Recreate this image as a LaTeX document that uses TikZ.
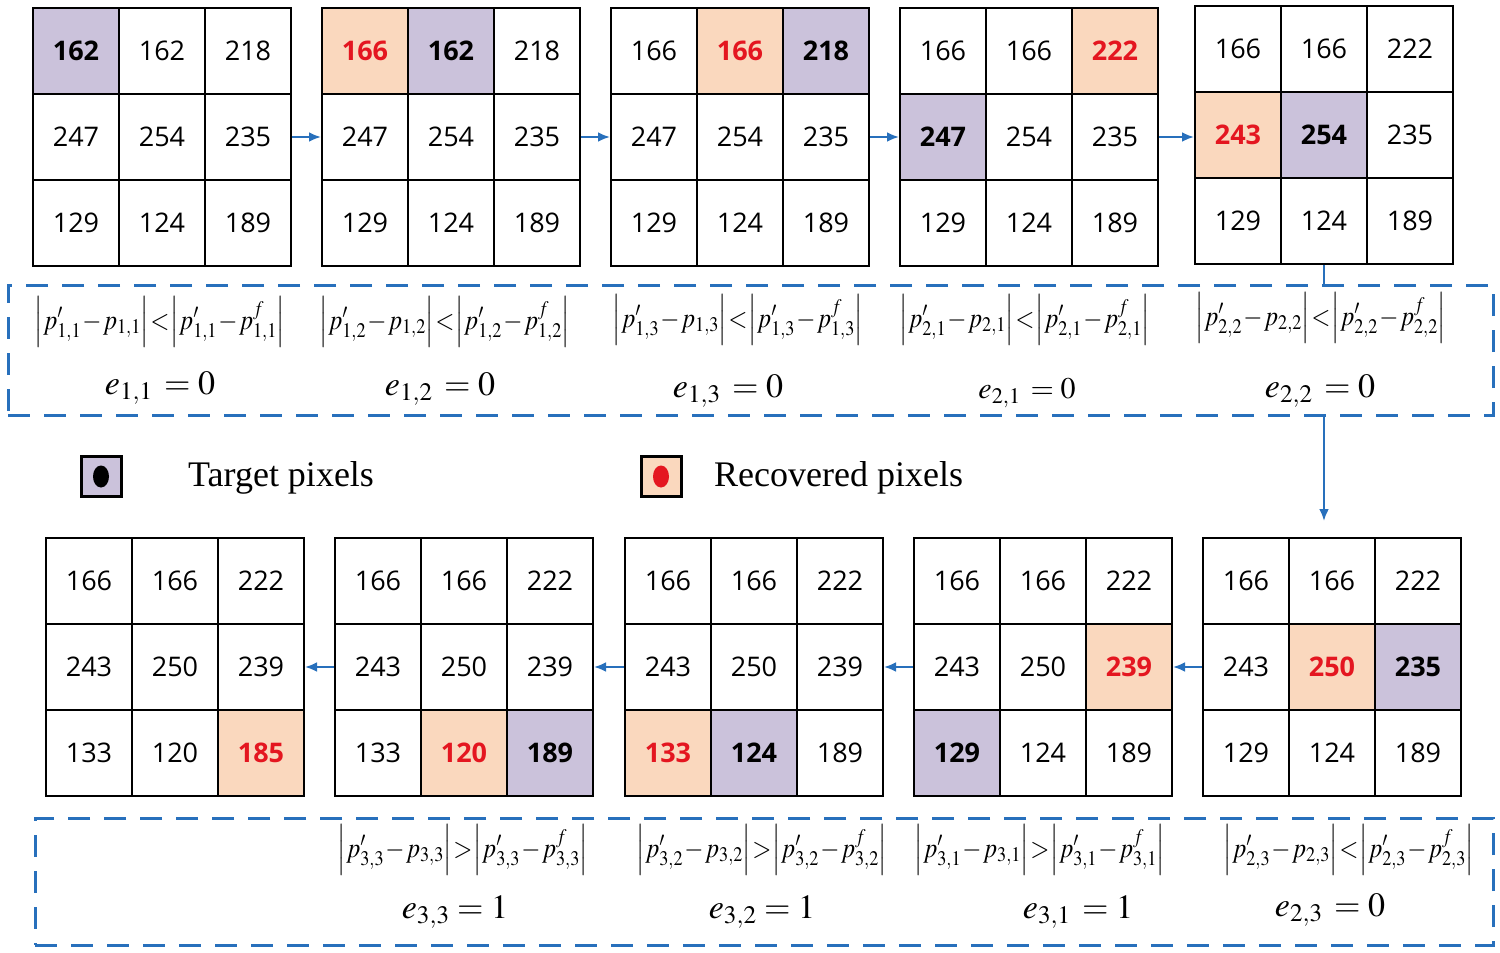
\documentclass[tikz,border=0pt]{standalone}
\usepackage{mathptmx}
\usepackage[no-math]{fontspec}
\usepackage{graphicx}
\setmainfont{Liberation Serif}
\newfontfamily\numfont{Open Sans}
\usetikzlibrary{arrows.meta}
\definecolor{tgt}{RGB}{203,194,219}
\definecolor{rec}{RGB}{250,216,190}
\definecolor{redn}{RGB}{228,22,32}
\definecolor{blu}{RGB}{40,112,188}
\tikzset{
  cell/.style={draw=black, line width=2pt, minimum size=86pt, inner sep=0pt,
    font=\numfont\fontsize{27}{27}\selectfont},
  csn/.style={},
  cst/.style={fill=tgt, font=\numfont\bfseries\fontsize{27}{27}\selectfont},
  csr/.style={fill=rec, text=redn, font=\numfont\bfseries\fontsize{27}{27}\selectfont},
  arr/.style={draw=blu, line width=2.5pt, -{Latex[length=12pt,width=10pt]}},
  dashbox/.style={draw=blu, line width=3pt, dash pattern=on 22pt off 14pt, inner sep=0pt},
  fm/.style={font=\fontsize{28}{28}\selectfont, inner sep=0pt},
  em/.style={font=\fontsize{34}{34}\selectfont, inner sep=0pt},
  legtxt/.style={font=\fontsize{36}{36}\selectfont, anchor=west, inner sep=0pt},
  legbox/.style={line width=3pt, minimum size=40pt, inner sep=0pt}
}
% compact formula |p'_ij - p_ij| rel |p'_ij - p^f_ij|
\newcommand\cmpf[3]{\scalebox{0.88}[1]{$\Bigl|p'_{#1{,}#2}\mkern1mu{-}\mkern1mu p_{#1{,}#2}\Bigr|\mkern1mu{#3}\mkern1mu\Bigl|p'_{#1{,}#2}\mkern1mu{-}\mkern1mu p^{f}_{#1{,}#2}\Bigr|$}}
\newcommand\pgrid[4]{%
  \foreach \s/\v [count=\i from 0] in {#4} {%
    \pgfmathtruncatemacro\rr{div(\i,3)+1}%
    \pgfmathtruncatemacro\cc{mod(\i,3)+1}%
    \node[cell, cs\s] (#1-\rr-\cc) at ({#2+43+86*(\cc-1)},{#3+43+86*(\rr-1)}) {\v};
  }%
}
\begin{document}
\begin{tikzpicture}[x=1pt,y=-1pt]
\fill[white] (0,0) rectangle (1500,953);
\useasboundingbox (0,0) rectangle (1500,953);

% top row
\pgrid{g1}{33}{8}{t/162,n/162,n/218,n/247,n/254,n/235,n/129,n/124,n/189}
\pgrid{g2}{322}{8}{r/166,t/162,n/218,n/247,n/254,n/235,n/129,n/124,n/189}
\pgrid{g3}{611}{8}{n/166,r/166,t/218,n/247,n/254,n/235,n/129,n/124,n/189}
\pgrid{g4}{900}{8}{n/166,n/166,r/222,t/247,n/254,n/235,n/129,n/124,n/189}
\pgrid{g5}{1195}{6}{n/166,n/166,n/222,r/243,t/254,n/235,n/129,n/124,n/189}

% bottom row
\pgrid{b1}{46}{538}{n/166,n/166,n/222,n/243,n/250,n/239,n/133,n/120,r/185}
\pgrid{b2}{335}{538}{n/166,n/166,n/222,n/243,n/250,n/239,n/133,r/120,t/189}
\pgrid{b3}{625}{538}{n/166,n/166,n/222,n/243,n/250,n/239,r/133,t/124,n/189}
\pgrid{b4}{914}{538}{n/166,n/166,n/222,n/243,n/250,r/239,t/129,n/124,n/189}
\pgrid{b5}{1203}{538}{n/166,n/166,n/222,n/243,r/250,t/235,n/129,n/124,n/189}

% dashed boxes
\node[dashbox, minimum width=1485pt, minimum height=130pt] (box1) at (750.5,350) {};
\node[dashbox, minimum width=1458pt, minimum height=127pt] (box2) at (764,881.5) {};

% arrows top
\draw[arr] (g1-2-3.east) -- (g2-2-1.west);
\draw[arr] (g2-2-3.east) -- (g3-2-1.west);
\draw[arr] (g3-2-3.east) -- (g4-2-1.west);
\draw[arr] (g4-2-3.east) -- (g4-2-3.east -| g5-2-1.west);
% vertical connector
\coordinate (vtop) at (g5-3-2.south |- box1.north);
\coordinate (vbot) at (g5-3-2.south |- box1.south);
\coordinate (vend) at (1324,521);
\draw[blu, line width=2.5pt] (g5-3-2.south) -- (vtop);
\draw[arr] (vbot) -- (vend);
% arrows bottom
\draw[arr] (b5-2-1.west) -- (b4-2-3.east);
\draw[arr] (b4-2-1.west) -- (b3-2-3.east);
\draw[arr] (b3-2-1.west) -- (b2-2-3.east);
\draw[arr] (b2-2-1.west) -- (b1-2-3.east);

% top formulas
\node[fm] (f11) at (160,322) {\cmpf{1}{1}{<}};
\node[fm] (f12) at (445,322) {\cmpf{1}{2}{<}};
\node[fm] (f13) at (738,320) {\cmpf{1}{3}{<}};
\node[fm] (f21) at (1025,320) {\cmpf{2}{1}{<}};
\node[fm] (f22) at (1321,318) {\cmpf{2}{2}{<}};
\node[em] (e11) at (160,388) {$e_{1,1}\,=0$};
\node[em] (e12) at (440,389) {$e_{1,2}\,=0$};
\node[em] (e13) at (728,391) {$e_{1,3}\,=0$};
\node[em, font=\fontsize{30}{30}\selectfont] (e21) at (1027,393) {$e_{2,1}\,=0$};
\node[em] (e22) at (1320,391) {$e_{2,2}\,=0$};

% legend
\node[legbox, fill=tgt, draw=black] (lt) at (101,476.5) {};
\fill[black] (lt.center) ellipse (8pt and 11pt);
\node[legtxt] (ltt) at (188,478) {Target pixels};
\node[legbox, fill=rec, draw=black] (lr) at (661,476.5) {};
\fill[redn] (lr.center) ellipse (8pt and 11pt);
\node[legtxt] (lrt) at (714,478) {Recovered pixels};

% bottom formulas
\node[fm] (f33) at (463,850) {\cmpf{3}{3}{>}};
\node[fm] (f32) at (762,850) {\cmpf{3}{2}{>}};
\node[fm] (f31) at (1040,850) {\cmpf{3}{1}{>}};
\node[fm] (f23) at (1349,850) {\cmpf{2}{3}{<}};
\node[em] (e33) at (455,912) {$e_{3,3}=1$};
\node[em] (e32) at (762,912) {$e_{3,2}=1$};
\node[em] (e31) at (1078,912) {$e_{3,1}\,=1$};
\node[em] (e23) at (1330,910) {$e_{2,3}\,=0$};
\end{tikzpicture}
\end{document}
